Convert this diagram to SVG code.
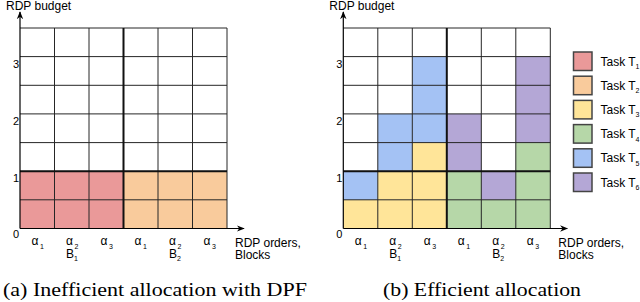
<svg xmlns="http://www.w3.org/2000/svg" width="640" height="302" viewBox="0 0 640 302">
<defs>
<marker id="arr" viewBox="0 0 10 10" refX="9" refY="5" markerWidth="8" markerHeight="8" markerUnits="userSpaceOnUse" orient="auto">
<path d="M0,1 L10,5 L0,9 L3,5 Z" fill="#000"/>
</marker>
<style>
.t1{fill:#ea9999}.t2{fill:#f9cb9c}.t3{fill:#ffe599}.t4{fill:#b6d7a8}.t5{fill:#a4c2f4}.t6{fill:#b4a7d6}
.g{stroke:#262626;stroke-width:1;fill:none}
.gt{stroke:#111;stroke-width:2;fill:none}
.ax{stroke:#000;stroke-width:1.2;fill:none}
.lab{font-family:"Liberation Sans",Arial,sans-serif;font-size:12px;fill:#000}
.tick{font-family:"Liberation Sans",Arial,sans-serif;font-size:11px;fill:#000;text-anchor:end}
.sub{font-family:"Liberation Sans",Arial,sans-serif;font-size:7px;fill:#000}
.cap{font-family:"Liberation Serif","Times New Roman",serif;font-size:19px;fill:#000}
.lb{stroke:#444;stroke-width:1.5}
</style>
<g id="gridlines">
<path class="g" d="M20,28H227M20,56.6H227M20,85.3H227M20,113.9H227M20,142.6H227M20,199.8H227"/>
<path class="g" d="M54.5,28V228.5M89,28V228.5M158,28V228.5M192.5,28V228.5M227,28V228.5"/>
<path class="gt" d="M20,171.2H227M123.5,28V228.5"/>
</g>
<g id="axes">
<path class="ax" d="M20,228.5V12" marker-end="url(#arr)"/>
<path class="ax" d="M20,228.5H244" marker-end="url(#arr)"/>
<text class="lab" x="6" y="9.5">RDP budget</text>
<text class="tick" x="19" y="238">0</text>
<text class="tick" x="19" y="182">1</text>
<text class="tick" x="19" y="125">2</text>
<text class="tick" x="19" y="68">3</text>
<text class="lab" x="31.5" y="245">α</text><text class="sub" x="40" y="249">1</text>
<text class="lab" x="66" y="245">α</text><text class="sub" x="74.5" y="249">2</text>
<text class="lab" x="66" y="257.5">B</text><text class="sub" x="74" y="261">1</text>
<text class="lab" x="100.5" y="245">α</text><text class="sub" x="109" y="249">3</text>
<text class="lab" x="235" y="246.5">RDP orders,</text>
<text class="lab" x="235" y="258.5">Blocks</text>
</g>
</defs>

<g id="chart-a">
<g id="a-cells">
<rect class="t1" x="20" y="171.2" width="103.5" height="57.3"/>
<rect class="t2" x="123.5" y="171.2" width="103.5" height="57.3"/>
</g>
<use href="#gridlines"/>
<use href="#axes"/>
<text class="lab" x="134.5" y="245">α</text><text class="sub" x="143" y="249">1</text>
<text class="lab" x="169" y="245">α</text><text class="sub" x="177.5" y="249">2</text>
<text class="lab" x="169" y="257.5">B</text><text class="sub" x="177" y="261">2</text>
<text class="lab" x="203.5" y="245">α</text><text class="sub" x="212" y="249">3</text>
</g>

<g id="chart-b" transform="translate(323.3,0)">
<g id="b-cells">
<rect class="t3" x="20" y="199.8" width="103.5" height="28.7"/>
<rect class="t4" x="123.5" y="199.8" width="103.5" height="28.7"/>
<rect class="t5" x="20" y="171.2" width="34.5" height="28.6"/>
<rect class="t3" x="54.5" y="171.2" width="69" height="28.6"/>
<rect class="t4" x="123.5" y="171.2" width="34.5" height="28.6"/>
<rect class="t6" x="158" y="171.2" width="34.5" height="28.6"/>
<rect class="t4" x="192.5" y="142.6" width="34.5" height="57.2"/>
<rect class="t5" x="54.5" y="113.9" width="34.5" height="57.3"/>
<rect class="t3" x="89" y="142.6" width="34.5" height="28.6"/>
<rect class="t5" x="89" y="56.6" width="34.5" height="86"/>
<rect class="t6" x="123.5" y="113.9" width="34.5" height="57.3"/>
<rect class="t6" x="192.5" y="56.6" width="34.5" height="86"/>
</g>
<use href="#gridlines"/>
<use href="#axes"/>
<text class="lab" x="134.5" y="245">α</text><text class="sub" x="143" y="249">1</text>
<text class="lab" x="169" y="245">α</text><text class="sub" x="177.5" y="249">2</text>
<text class="lab" x="169" y="257.5">B</text><text class="sub" x="177" y="261">2</text>
<text class="lab" x="203.5" y="245">α</text><text class="sub" x="212" y="249">3</text>
</g>

<g id="legend">
<g id="leg-t1"><rect class="t1 lb" x="573.5" y="52" width="18.5" height="18.5"/><text class="lab" x="600.5" y="65.5">Task T</text><text class="sub" x="635.5" y="69">1</text></g>
<g id="leg-t2"><rect class="t2 lb" x="573.5" y="76.2" width="18.5" height="18.5"/><text class="lab" x="600.5" y="89.7">Task T</text><text class="sub" x="635.5" y="93.2">2</text></g>
<g id="leg-t3"><rect class="t3 lb" x="573.5" y="100.4" width="18.5" height="18.5"/><text class="lab" x="600.5" y="113.9">Task T</text><text class="sub" x="635.5" y="117.4">3</text></g>
<g id="leg-t4"><rect class="t4 lb" x="573.5" y="124.6" width="18.5" height="18.5"/><text class="lab" x="600.5" y="138.1">Task T</text><text class="sub" x="635.5" y="141.6">4</text></g>
<g id="leg-t5"><rect class="t5 lb" x="573.5" y="148.8" width="18.5" height="18.5"/><text class="lab" x="600.5" y="162.3">Task T</text><text class="sub" x="635.5" y="165.8">5</text></g>
<g id="leg-t6"><rect class="t6 lb" x="573.5" y="173" width="18.5" height="18.5"/><text class="lab" x="600.5" y="186.5">Task T</text><text class="sub" x="635.5" y="190">6</text></g>
</g>

<g id="captions">
<text class="cap" x="3" y="296" textLength="304" lengthAdjust="spacingAndGlyphs">(a)  Inefficient allocation with DPF</text>
<text class="cap" x="383" y="296" textLength="198" lengthAdjust="spacingAndGlyphs">(b)  Efficient allocation</text>
</g>
</svg>
